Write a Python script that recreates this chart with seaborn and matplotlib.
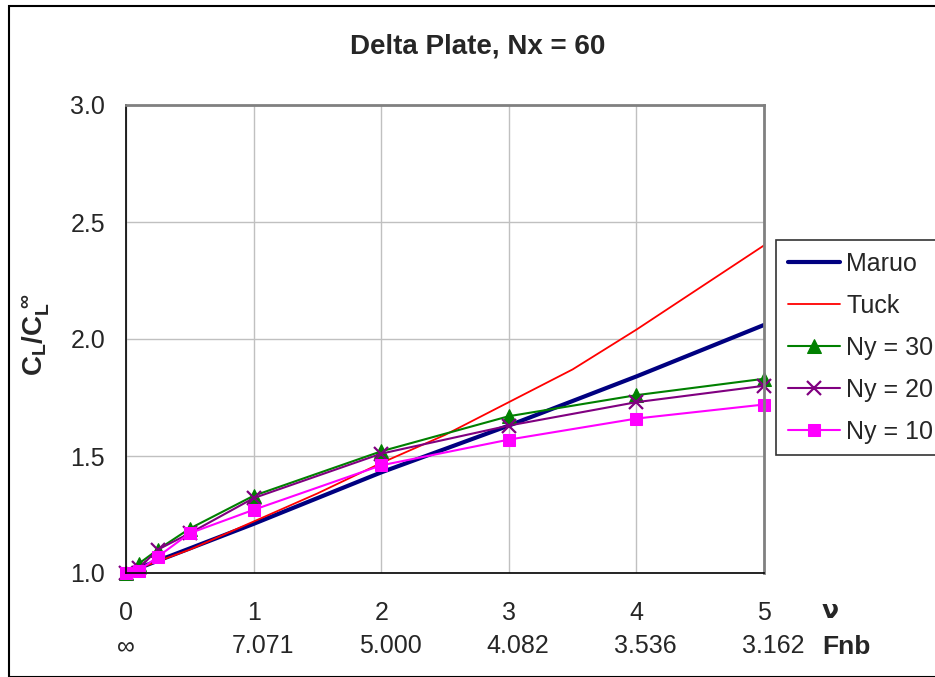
import numpy as np
import pandas as pd
import matplotlib
matplotlib.use("Agg")
import matplotlib.pyplot as plt
import matplotlib.transforms as mtransforms
import seaborn as sns
from matplotlib.patches import Rectangle

# values
nu_ticks = [0, 1, 2, 3, 4, 5]
fnb_labels = ["\u221e", "7.071", "5.000", "4.082", "3.536", "3.162"]

maruo_x = [0, 1, 2, 3, 4, 5]
maruo_y = [1.0, 1.21, 1.43, 1.63, 1.84, 2.06]

tuck_x = [0, 0.5, 1, 1.5, 2, 2.5, 3, 3.5, 4, 4.5, 5]
tuck_y = [1.0, 1.10, 1.22, 1.34, 1.47, 1.59, 1.73, 1.87, 2.04, 2.22, 2.40]

ny_x = [0, 0.1, 0.25, 0.5, 1, 2, 3, 4, 5]
ny30 = [1.0, 1.04, 1.10, 1.19, 1.33, 1.52, 1.67, 1.76, 1.83]
ny20 = [1.0, 1.02, 1.10, 1.17, 1.32, 1.51, 1.63, 1.73, 1.80]
ny10 = [1.0, 1.01, 1.07, 1.17, 1.27, 1.46, 1.57, 1.66, 1.72]

sns.set_style("white")
plt.rcParams["font.family"] = ["Liberation Sans", "DejaVu Sans"]
plt.rcParams["mathtext.fontset"] = "custom"
plt.rcParams["mathtext.rm"] = "Liberation Sans"
plt.rcParams["mathtext.bf"] = "Liberation Sans:bold"

fig = plt.figure(figsize=(9.35, 6.77), dpi=100)
ax = fig.add_axes([126/935, 1-573/677, (764-126)/935, (573-105)/677])

sns.lineplot(x=maruo_x, y=maruo_y, ax=ax, color="#000080", lw=3, label="Maruo")
sns.lineplot(x=tuck_x, y=tuck_y, ax=ax, color="#ff0000", lw=1.3, label="Tuck")
sns.lineplot(x=ny_x, y=ny30, ax=ax, color="#008000", lw=1.5, marker="^", markersize=10,
             markeredgecolor="#008000", label="Ny = 30", clip_on=False)
sns.lineplot(x=ny_x, y=ny20, ax=ax, color="#800080", lw=1.5, marker="x", markersize=10,
             markeredgecolor="#800080", markeredgewidth=1.6, label="Ny = 20", clip_on=False)
sns.lineplot(x=ny_x, y=ny10, ax=ax, color="#ff00ff", lw=1.5, marker="s", markersize=8,
             markeredgecolor="#ff00ff", label="Ny = 10", clip_on=False)

ax.set_xlim(0, 5)
ax.set_ylim(1.0, 3.0)
ax.set_yticks([1.0, 1.5, 2.0, 2.5, 3.0])
ax.set_yticklabels(["1.0", "1.5", "2.0", "2.5", "3.0"])
ax.set_xticks(nu_ticks)
ax.set_xticklabels([str(t) for t in nu_ticks])
ax.tick_params(axis="both", labelsize=18, direction="out", length=6, width=1, color="black")
ax.tick_params(axis="x", pad=14.5)
ax.tick_params(axis="y", pad=9)
ax.grid(True, color="#c0c0c0", lw=1)
for s in ["top", "right"]:
    ax.spines[s].set_color("#808080")
    ax.spines[s].set_linewidth(2)
for s in ["left", "bottom"]:
    ax.spines[s].set_color("black")
    ax.spines[s].set_linewidth(1.2)

# second row of x labels (Fnb), slightly right of the ticks like the original
row2 = ax.get_xaxis_transform()
for t, f in zip(nu_ticks, fnb_labels):
    dx = 0 if f == "\u221e" else 9
    tr = row2 + mtransforms.ScaledTranslation(dx/100, 0, fig.dpi_scale_trans)
    ax.text(t, -(646-573)/468, f, transform=tr, ha="center", va="center", fontsize=18)

ax.set_ylabel("")
fig.text(36/935, 1-335/677, r"$\mathbf{C_L/C_L^{\ \infty}}$", rotation=90,
         ha="center", va="center", fontsize=20)
fig.text(478/935, 1-46/677, "Delta Plate, Nx = 60", ha="center", va="center",
         fontsize=20, fontweight="bold")
fig.text(822/935, 1-611/677, "\u03bd", ha="left", va="center", fontsize=18, fontweight="bold",
         family=["DejaVu Sans"])
fig.text(822/935, 1-647/677, "Fnb", ha="left", va="center", fontsize=19, fontweight="bold")

leg = ax.legend(loc="upper left", bbox_to_anchor=(776/935, 1-240/677),
                bbox_transform=fig.transFigure, fontsize=18, frameon=True,
                fancybox=False, edgecolor="black", handlelength=2.1,
                borderpad=0.47, labelspacing=0.72, handletextpad=0.25, borderaxespad=0)
leg.get_frame().set_linewidth(1.2)

fig.patches.append(Rectangle((9/935, 0), 1, 1-6/677, transform=fig.transFigure,
                             fill=False, edgecolor="black", lw=1.5))

fig.savefig("out.png", dpi=100)
